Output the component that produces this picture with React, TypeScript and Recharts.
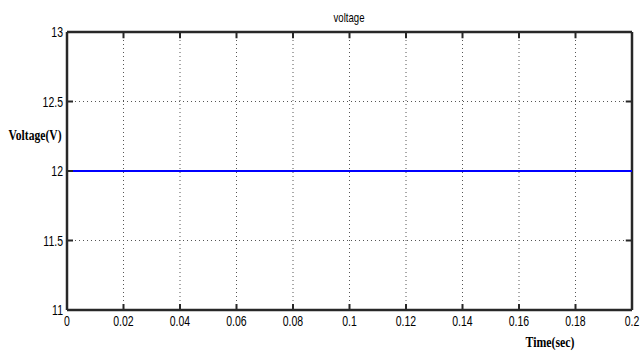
import { LineChart, Line, XAxis, YAxis, CartesianGrid, ReferenceLine } from 'recharts';

const timeSec = [0, 0.02, 0.04, 0.06, 0.08, 0.1, 0.12, 0.14, 0.16, 0.18, 0.2];
const voltage = [12, 12, 12, 12, 12, 12, 12, 12, 12, 12, 12];
const xTicks = [0, 0.02, 0.04, 0.06, 0.08, 0.1, 0.12, 0.14, 0.16, 0.18, 0.2];
const yTicks = [11, 11.5, 12, 12.5, 13];

const data = timeSec.map((t, i) => ({ t, v: voltage[i] }));

const tickFont = '"Liberation Sans", Arial, sans-serif';
const labelFont = '"Liberation Serif", "DejaVu Serif", serif';
const axisColor = 'rgb(40,40,40)';

// narrow tick text, MATLAB style
const Narrow = ({ x, y, anchor, children }: any) => (
  <text
    transform={`translate(${x},${y}) scale(0.75,1)`}
    textAnchor={anchor}
    fontSize={14}
    fontFamily={tickFont}
    fill="#000"
  >
    {children}
  </text>
);

const BottomTick = ({ x, y, payload }: any) => (
  <g>
    <rect x={x - 1} y={y - 6} width={2} height={6} fill={axisColor} />
    <Narrow x={x} y={y + 16} anchor="middle">
      {payload.value}
    </Narrow>
  </g>
);

const LeftTick = ({ x, y, payload }: any) => (
  <g>
    <rect x={x} y={y - 1} width={6} height={2} fill={axisColor} />
    <Narrow x={x - 4} y={y + 5} anchor="end">
      {payload.value}
    </Narrow>
  </g>
);

export default function App() {
  return (
    <div style={{ position: 'absolute', left: 0, top: 0, width: 643, height: 352, background: '#fff' }}>
      <LineChart width={643} height={352} data={data} margin={{ top: 32, right: 11, bottom: 0, left: 0 }}>
        <CartesianGrid
          xAxisId="b"
          yAxisId="l"
          stroke="#555"
          strokeDasharray="1 3"
          horizontalValues={yTicks}
          verticalValues={xTicks}
        />
        <XAxis
          xAxisId="b"
          dataKey="t"
          type="number"
          domain={[0, 0.2]}
          ticks={xTicks}
          height={42}
          axisLine={{ stroke: axisColor, strokeWidth: 2.5 }}
          tickLine={false}
          tickSize={0}
          tickMargin={0}
          tick={<BottomTick />}
          interval={0}
        />
        <YAxis
          yAxisId="l"
          type="number"
          domain={[11, 13]}
          ticks={yTicks}
          width={67}
          axisLine={{ stroke: axisColor, strokeWidth: 2.5 }}
          tickLine={false}
          tickSize={0}
          tickMargin={0}
          tick={<LeftTick />}
          interval={0}
        />
        <ReferenceLine xAxisId="b" yAxisId="l" x={0.2} stroke={axisColor} strokeWidth={2.5} />
        <ReferenceLine xAxisId="b" yAxisId="l" y={13} stroke={axisColor} strokeWidth={2.5} />
        {xTicks.map((t) => (
          <ReferenceLine
            key={'tx' + t}
            xAxisId="b"
            yAxisId="l"
            segment={[
              { x: t, y: 13 },
              { x: t, y: 12.955 },
            ]}
            stroke={axisColor}
            strokeWidth={2}
          />
        ))}
        {yTicks.map((v) => (
          <ReferenceLine
            key={'ty' + v}
            xAxisId="b"
            yAxisId="l"
            segment={[
              { x: 0.2, y: v },
              { x: 0.1978, y: v },
            ]}
            stroke={axisColor}
            strokeWidth={2}
          />
        ))}
        <Line
          xAxisId="b"
          yAxisId="l"
          dataKey="v"
          stroke="#0000ff"
          strokeWidth={2}
          dot={false}
          isAnimationActive={false}
        />
        <text
          transform="translate(349,22) scale(0.8,1)"
          textAnchor="middle"
          fontSize={12}
          fontFamily={tickFont}
          fill="#000"
        >
          voltage
        </text>
        <text
          x={35}
          y={140}
          textAnchor="middle"
          fontSize={14}
          fontWeight="bold"
          fontFamily={labelFont}
          fill="#000"
          textLength={53}
          lengthAdjust="spacingAndGlyphs"
        >
          Voltage(V)
        </text>
        <text
          x={550}
          y={347}
          textAnchor="middle"
          fontSize={14}
          fontWeight="bold"
          fontFamily={labelFont}
          fill="#000"
          textLength={49}
          lengthAdjust="spacingAndGlyphs"
        >
          Time(sec)
        </text>
      </LineChart>
    </div>
  );
}
